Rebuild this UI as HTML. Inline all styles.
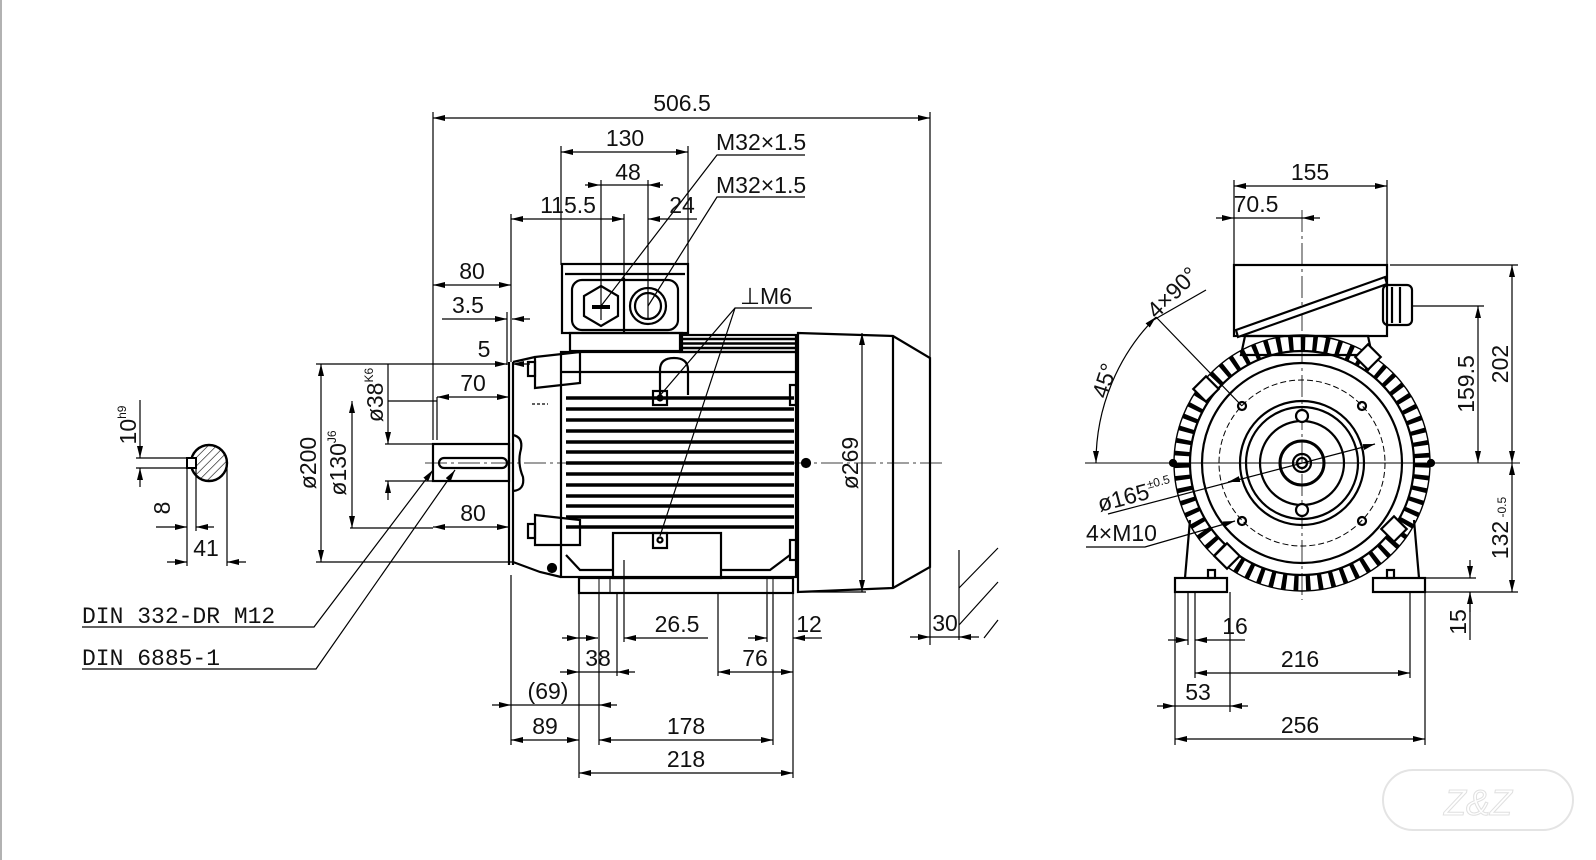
<!DOCTYPE html>
<html><head><meta charset="utf-8"><style>
html,body{margin:0;padding:0;background:#fff;}
svg{display:block;}
text{font-family:"Liberation Sans",sans-serif;font-size:23px;fill:#111;}
</style></head><body>
<svg width="1596" height="860" viewBox="0 0 1596 860" xmlns="http://www.w3.org/2000/svg">
<defs>
<marker id="a" viewBox="0 0 12 6" refX="12" refY="3" markerWidth="12" markerHeight="6" orient="auto-start-reverse" markerUnits="userSpaceOnUse"><path d="M0,0 L12,3 L0,6 z" fill="#000"/></marker>
<pattern id="h" width="6" height="6" patternUnits="userSpaceOnUse" patternTransform="rotate(45)"><line x1="0" y1="0" x2="0" y2="6" stroke="#000" stroke-width="1.2"/></pattern>
</defs>
<line x1="1" y1="0" x2="1" y2="860" stroke="#666" stroke-width="1"/>

<g stroke="#000" fill="none" stroke-width="1.2">
<line x1="433" y1="118" x2="930" y2="118" marker-start="url(#a)" marker-end="url(#a)"/>
<line x1="433" y1="112" x2="433" y2="440"/>
<line x1="930" y1="112" x2="930" y2="645"/>
<line x1="561" y1="152" x2="688" y2="152" marker-start="url(#a)" marker-end="url(#a)"/>
<line x1="561" y1="146" x2="561" y2="265"/><line x1="688" y1="146" x2="688" y2="265"/>
<line x1="585" y1="185" x2="600" y2="185" marker-end="url(#a)"/><line x1="600" y1="185" x2="648" y2="185"/><line x1="663" y1="185" x2="648" y2="185" marker-end="url(#a)"/>
<line x1="601" y1="180" x2="601" y2="320"/><line x1="648" y1="180" x2="648" y2="320"/>
<line x1="511" y1="219" x2="624" y2="219" marker-start="url(#a)" marker-end="url(#a)"/>
<line x1="668" y1="219" x2="648" y2="219" marker-end="url(#a)"/><line x1="668" y1="219" x2="697" y2="219"/>
<line x1="511" y1="214" x2="511" y2="362"/><line x1="624" y1="214" x2="624" y2="330"/>
<polyline points="805,155 717,155 601,306"/>
<polyline points="805,197 717,197 648,306"/>
<line x1="433" y1="285" x2="511" y2="285" marker-start="url(#a)" marker-end="url(#a)"/>
<line x1="442" y1="319" x2="507" y2="319" marker-end="url(#a)"/><line x1="530" y1="319" x2="512" y2="319" marker-end="url(#a)"/>
<line x1="507" y1="312" x2="507" y2="365"/>
<line x1="316" y1="364" x2="507" y2="364" marker-end="url(#a)"/><line x1="530" y1="364" x2="512" y2="364" marker-end="url(#a)"/>
<line x1="437" y1="397" x2="509" y2="397" marker-start="url(#a)" marker-end="url(#a)"/>
<line x1="437" y1="397" x2="437" y2="440"/>
<line x1="388" y1="401" x2="437" y2="401"/>
<line x1="433" y1="527" x2="509" y2="527" marker-start="url(#a)" marker-end="url(#a)"/>
<line x1="350" y1="528" x2="433" y2="528"/>
<line x1="316" y1="562" x2="512" y2="562"/>
<line x1="321" y1="364" x2="321" y2="562" marker-start="url(#a)" marker-end="url(#a)"/>
<line x1="352" y1="401" x2="352" y2="528" marker-start="url(#a)" marker-end="url(#a)"/>
<line x1="385" y1="444" x2="433" y2="444"/><line x1="385" y1="481" x2="433" y2="481"/>
<line x1="388" y1="364" x2="388" y2="444" marker-end="url(#a)"/><line x1="388" y1="500" x2="388" y2="481" marker-end="url(#a)"/>
<polyline points="82,627 314,627 433,470" marker-end="url(#a)"/>
<polyline points="82,669 316,669 455,470" marker-end="url(#a)"/>
<circle cx="209" cy="463" r="18" fill="url(#h)" stroke-width="2.4"/>
<rect x="187" y="458" width="9" height="10" fill="#fff" stroke-width="2"/>
<line x1="136" y1="458" x2="187" y2="458"/><line x1="136" y1="468" x2="187" y2="468"/>
<line x1="140" y1="400" x2="140" y2="458" marker-end="url(#a)"/><line x1="140" y1="487" x2="140" y2="468" marker-end="url(#a)"/>
<line x1="187" y1="468" x2="187" y2="566"/><line x1="196" y1="468" x2="196" y2="531"/><line x1="227" y1="463" x2="227" y2="566"/>
<line x1="156" y1="527" x2="187" y2="527" marker-end="url(#a)"/><line x1="214" y1="527" x2="196" y2="527" marker-end="url(#a)"/>
<line x1="167" y1="562" x2="187" y2="562" marker-end="url(#a)"/><line x1="246" y1="562" x2="227" y2="562" marker-end="url(#a)"/>
<line x1="511" y1="575" x2="511" y2="745"/>
<line x1="579" y1="593" x2="579" y2="778"/><line x1="599" y1="593" x2="599" y2="745"/>
<line x1="617" y1="593" x2="617" y2="676"/><line x1="624" y1="560" x2="624" y2="642"/>
<line x1="718" y1="593" x2="718" y2="676"/><line x1="767" y1="593" x2="767" y2="642"/>
<line x1="773" y1="593" x2="773" y2="745"/><line x1="793" y1="593" x2="793" y2="778"/>
<line x1="562" y1="638" x2="579" y2="638" marker-end="url(#a)"/><line x1="579" y1="638" x2="598" y2="638" marker-end="url(#a)"/>
<line x1="708" y1="638" x2="624" y2="638" marker-end="url(#a)"/>
<line x1="560" y1="672" x2="579" y2="672" marker-end="url(#a)"/><line x1="635" y1="672" x2="617" y2="672" marker-end="url(#a)"/><line x1="579" y1="672" x2="617" y2="672"/>
<line x1="718" y1="672" x2="793" y2="672" marker-start="url(#a)" marker-end="url(#a)"/>
<line x1="748" y1="638" x2="767" y2="638" marker-end="url(#a)"/><line x1="822" y1="638" x2="793" y2="638" marker-end="url(#a)"/>
<line x1="492" y1="705" x2="511" y2="705" marker-end="url(#a)"/><line x1="511" y1="705" x2="599" y2="705"/>
<line x1="617" y1="705" x2="599" y2="705" marker-end="url(#a)"/>
<line x1="511" y1="740" x2="579" y2="740" marker-start="url(#a)" marker-end="url(#a)"/>
<line x1="599" y1="740" x2="773" y2="740" marker-start="url(#a)" marker-end="url(#a)"/>
<line x1="579" y1="773" x2="793" y2="773" marker-start="url(#a)" marker-end="url(#a)"/>
<line x1="910" y1="637" x2="930" y2="637" marker-end="url(#a)"/><line x1="979" y1="637" x2="959" y2="637" marker-end="url(#a)"/>
<line x1="930" y1="637" x2="959" y2="637"/>
<line x1="959" y1="550" x2="959" y2="640"/>
<line x1="959" y1="588" x2="998" y2="548"/><line x1="959" y1="625" x2="998" y2="582"/><line x1="984" y1="638" x2="998" y2="620"/>
<line x1="862" y1="333" x2="862" y2="592" marker-start="url(#a)" marker-end="url(#a)"/>
<line x1="800" y1="592" x2="866" y2="592"/>
<polyline points="812,308 735,308 657,399"/>
<line x1="735" y1="308" x2="660" y2="536"/>
<line x1="425" y1="463" x2="945" y2="463" stroke-dasharray="22 4 3 4" stroke-width="0.8"/>
<line x1="532" y1="404" x2="548" y2="404" stroke-dasharray="3 2"/>

<g stroke-width="2.2">
<rect x="562" y="264" width="126" height="69"/>
<line x1="565" y1="274" x2="685" y2="274"/>
<rect x="572" y="280" width="106" height="50" rx="10"/>
<line x1="624" y1="278" x2="624" y2="333"/>
<polygon points="601,286 618,296 618,316 601,326 584,316 584,296"/>
<line x1="592" y1="307" x2="610" y2="307" stroke-width="4"/>
<circle cx="648" cy="306" r="18"/><circle cx="648" cy="306" r="13"/>
<rect x="570" y="333" width="112" height="18"/>
<rect x="561" y="352" width="235" height="225"/>
<rect x="680" y="335" width="116" height="17"/>
<line x1="682" y1="339" x2="796" y2="339" stroke-width="2.5"/>
<line x1="682" y1="343.5" x2="796" y2="343.5" stroke-width="2.5"/>
<line x1="682" y1="348" x2="796" y2="348" stroke-width="2.5"/>
<line x1="561" y1="372" x2="796" y2="372"/>
<polygon points="535,357 580,352 580,383 535,388"/><rect x="528" y="362" width="7" height="14"/>
<polygon points="535,515 580,520 580,545 535,545"/><rect x="528" y="524" width="7" height="14"/>
<line x1="509" y1="362" x2="509" y2="565"/><line x1="513" y1="362" x2="513" y2="565"/>
<polyline points="513,362 535,357"/>
<polyline points="513,562 540,572 561,577"/>
<path d="M513,435 q10,2 8,14 q-4,14 2,28 q2,13 -10,14" />
<circle cx="552" cy="568" r="4" fill="#000"/>
<rect x="433" y="444" width="76" height="37"/>
<rect x="439" y="458" width="68" height="10" rx="5"/>
<path d="M660,395 v-25 q0,-12 14,-12 q14,0 14,12 v25"/>
<rect x="653" y="391" width="14" height="14"/><circle cx="660" cy="398" r="2.5"/>
<rect x="613" y="533" width="108" height="45"/>
<rect x="653" y="533" width="14" height="15"/><circle cx="660" cy="540" r="2.5"/>
<polyline points="566,555 580,570 613,570"/><polyline points="721,570 770,570 790,555"/>
<rect x="579" y="578" width="214" height="15"/>
<line x1="599" y1="578" x2="599" y2="593" stroke-width="1"/><line x1="610" y1="578" x2="610" y2="593" stroke-width="1"/>
<line x1="767" y1="578" x2="767" y2="593" stroke-width="1"/><line x1="773" y1="578" x2="773" y2="593" stroke-width="1"/>
<path d="M798,333 L893,336 L930,358 L930,567 L893,588 L798,592 Z"/>
<line x1="893" y1="336" x2="893" y2="588"/>
<rect x="790" y="385" width="6" height="20"/><rect x="790" y="540" width="6" height="20"/>
<circle cx="806" cy="463" r="4" fill="#000"/>
</g>
<g stroke-width="3.4">
<line x1="566" y1="398" x2="794" y2="398"/><line x1="566" y1="409" x2="794" y2="409"/>
<line x1="566" y1="420" x2="794" y2="420"/><line x1="566" y1="431" x2="794" y2="431"/>
<line x1="566" y1="442" x2="794" y2="442"/><line x1="566" y1="452" x2="794" y2="452"/>
<line x1="566" y1="463" x2="794" y2="463"/><line x1="566" y1="474" x2="794" y2="474"/>
<line x1="566" y1="485" x2="794" y2="485"/><line x1="566" y1="496" x2="794" y2="496"/>
<line x1="566" y1="506" x2="794" y2="506"/><line x1="566" y1="517" x2="794" y2="517"/>
<line x1="566" y1="527" x2="794" y2="527"/>
</g>

<line x1="1234" y1="186" x2="1387" y2="186" marker-start="url(#a)" marker-end="url(#a)"/>
<line x1="1234" y1="180" x2="1234" y2="265"/><line x1="1387" y1="180" x2="1387" y2="265"/>
<line x1="1216" y1="218" x2="1234" y2="218" marker-end="url(#a)"/><line x1="1234" y1="218" x2="1302" y2="218"/><line x1="1320" y1="218" x2="1302" y2="218" marker-end="url(#a)"/>
<line x1="1302" y1="210" x2="1302" y2="600" stroke-dasharray="22 4 3 4" stroke-width="0.8"/>
<line x1="1085" y1="463" x2="1520" y2="463" stroke-width="0.9"/>
<line x1="1390" y1="265" x2="1518" y2="265"/>
<line x1="1512" y1="265" x2="1512" y2="463" marker-start="url(#a)" marker-end="url(#a)"/>
<line x1="1512" y1="463" x2="1512" y2="592" marker-start="url(#a)" marker-end="url(#a)"/>
<line x1="1412" y1="306" x2="1484" y2="306"/>
<line x1="1478" y1="306" x2="1478" y2="463" marker-start="url(#a)" marker-end="url(#a)"/>
<line x1="1425" y1="578" x2="1476" y2="578"/><line x1="1425" y1="592" x2="1518" y2="592"/>
<line x1="1470" y1="560" x2="1470" y2="578" marker-end="url(#a)"/><line x1="1470" y1="612" x2="1470" y2="592" marker-end="url(#a)"/>
<line x1="1470" y1="592" x2="1470" y2="640"/>
<line x1="1175" y1="592" x2="1175" y2="745"/><line x1="1188" y1="592" x2="1188" y2="645"/>
<line x1="1195" y1="592" x2="1195" y2="678"/><line x1="1230" y1="592" x2="1230" y2="712"/>
<line x1="1410" y1="592" x2="1410" y2="678"/><line x1="1425" y1="592" x2="1425" y2="745"/>
<line x1="1168" y1="640" x2="1188" y2="640" marker-end="url(#a)"/><line x1="1213" y1="640" x2="1195" y2="640" marker-end="url(#a)"/><line x1="1213" y1="640" x2="1245" y2="640"/>
<line x1="1195" y1="673" x2="1410" y2="673" marker-start="url(#a)" marker-end="url(#a)"/>
<line x1="1157" y1="706" x2="1175" y2="706" marker-end="url(#a)"/><line x1="1175" y1="706" x2="1230" y2="706"/><line x1="1248" y1="706" x2="1230" y2="706" marker-end="url(#a)"/>
<line x1="1175" y1="739" x2="1425" y2="739" marker-start="url(#a)" marker-end="url(#a)"/>
<path d="M1096,463 A206,206 0 0 1 1156,317" marker-start="url(#a)" marker-end="url(#a)"/>
<line x1="1156" y1="317" x2="1242" y2="406"/>
<line x1="1150" y1="322" x2="1206" y2="290"/>
<line x1="1108" y1="514" x2="1375" y2="444" marker-end="url(#a)"/>
<line x1="1240" y1="479" x2="1228" y2="482" marker-end="url(#a)"/>
<polyline points="1086,547 1145,547 1235,521" marker-end="url(#a)"/>

<g stroke-width="2.2">
<rect x="1234" y="265" width="153" height="71"/>
<polygon points="1236,330 1385,277 1387,284 1238,337" fill="#fff"/>
<rect x="1383" y="285" width="29" height="40" rx="5"/>
<line x1="1392" y1="287" x2="1392" y2="323"/><line x1="1400" y1="287" x2="1400" y2="323"/>
<polygon points="1245,336 1368,336 1372,355 1241,355"/>
<circle cx="1302" cy="463" r="120" stroke-width="16" stroke-dasharray="4.5 7.5" stroke="#000"/>
<circle cx="1302" cy="463" r="128" stroke-width="1.4"/>
<circle cx="1302" cy="463" r="112"/>
<circle cx="1302" cy="463" r="100"/>
<circle cx="1302" cy="463" r="83" stroke-width="1" stroke-dasharray="6 3"/>
<circle cx="1302" cy="463" r="62"/><circle cx="1302" cy="463" r="56"/>
<circle cx="1302" cy="463" r="42"/>
<circle cx="1302" cy="463" r="22" stroke-width="3"/>
<circle cx="1302" cy="463" r="9"/><circle cx="1302" cy="463" r="5"/>
<circle cx="1302" cy="416" r="6" fill="#fff"/><circle cx="1302" cy="510" r="6" fill="#fff"/>
<circle cx="1242" cy="406" r="4"/><circle cx="1362" cy="406" r="4"/>
<circle cx="1242" cy="521" r="4"/><circle cx="1362" cy="521" r="4"/>
<rect x="1197" y="380" width="18" height="18" fill="#fff" transform="rotate(45 1206 389)"/>
<rect x="1359" y="348" width="18" height="18" fill="#fff" transform="rotate(45 1368 357)"/>
<rect x="1385" y="520" width="18" height="18" fill="#fff" transform="rotate(45 1394 529)"/>
<rect x="1218" y="547" width="18" height="18" fill="#fff" transform="rotate(45 1227 556)"/>
<polyline points="1190,520 1185,578"/><polyline points="1414,520 1419,578"/>
<rect x="1175" y="578" width="52" height="14"/><rect x="1373" y="578" width="52" height="14"/>
<rect x="1208" y="570" width="7" height="8"/><rect x="1387" y="570" width="7" height="8"/>
<circle cx="1173" cy="463" r="3" fill="#000"/><circle cx="1431" cy="463" r="3" fill="#000"/>
</g>
</g>

<g>
<text x="682" y="111" text-anchor="middle">506.5</text>
<text x="625" y="146" text-anchor="middle">130</text>
<text x="628" y="180" text-anchor="middle">48</text>
<text x="568" y="213" text-anchor="middle">115.5</text>
<text x="682" y="213" text-anchor="middle">24</text>
<text x="716" y="150">M32×1.5</text>
<text x="716" y="193">M32×1.5</text>
<text x="740" y="304">⊥M6</text>
<text x="472" y="279" text-anchor="middle">80</text>
<text x="468" y="313" text-anchor="middle">3.5</text>
<text x="484" y="357" text-anchor="middle">5</text>
<text x="473" y="391" text-anchor="middle">70</text>
<text x="473" y="521" text-anchor="middle">80</text>
<text transform="translate(316,463) rotate(-90)" text-anchor="middle">ø200</text>
<text transform="translate(346,463) rotate(-90)" text-anchor="middle">ø130<tspan font-size="12" dy="-10">J6</tspan></text>
<text transform="translate(383,395) rotate(-90)" text-anchor="middle">ø38<tspan font-size="12" dy="-10">K6</tspan></text>
<text transform="translate(858,463) rotate(-90)" text-anchor="middle">ø269</text>
<text transform="translate(136,425) rotate(-90)" text-anchor="middle">10<tspan font-size="12" dy="-10">h9</tspan></text>
<text transform="translate(170,508) rotate(-90)" text-anchor="middle">8</text>
<text x="206" y="556" text-anchor="middle">41</text>
<text x="82" y="623" style="font-family:'Liberation Mono',monospace">DIN 332-DR M12</text>
<text x="82" y="665" style="font-family:'Liberation Mono',monospace">DIN 6885-1</text>
<text x="677" y="632" text-anchor="middle">26.5</text>
<text x="809" y="632" text-anchor="middle">12</text>
<text x="598" y="666" text-anchor="middle">38</text>
<text x="755" y="666" text-anchor="middle">76</text>
<text x="548" y="699" text-anchor="middle">(69)</text>
<text x="545" y="734" text-anchor="middle">89</text>
<text x="686" y="734" text-anchor="middle">178</text>
<text x="686" y="767" text-anchor="middle">218</text>
<text x="945" y="631" text-anchor="middle">30</text>
<text x="1310" y="180" text-anchor="middle">155</text>
<text x="1256" y="212" text-anchor="middle">70.5</text>
<text transform="translate(1508,364) rotate(-90)" text-anchor="middle">202</text>
<text transform="translate(1474,384) rotate(-90)" text-anchor="middle">159.5</text>
<text transform="translate(1508,528) rotate(-90)" text-anchor="middle">132<tspan font-size="12" dy="-2"> -0.5</tspan></text>
<text transform="translate(1466,622) rotate(-90)" text-anchor="middle">15</text>
<text x="1235" y="634" text-anchor="middle">16</text>
<text x="1300" y="667" text-anchor="middle">216</text>
<text x="1198" y="700" text-anchor="middle">53</text>
<text x="1300" y="733" text-anchor="middle">256</text>
<text transform="translate(1112,383) rotate(-72)" text-anchor="middle">45°</text>
<text transform="translate(1178,298) rotate(-45)" text-anchor="middle">4×90°</text>
<text transform="translate(1100,512) rotate(-15)">ø165<tspan font-size="12" dy="-10">±0.5</tspan></text>
<text x="1086" y="541">4×M10</text>
</g>
<g stroke="#e4e4e4" fill="none" stroke-width="2">
<rect x="1383" y="770" width="190" height="60" rx="30"/>
<text x="1478" y="815" text-anchor="middle" style="fill:none;stroke:#e0e0e0;stroke-width:1;font-size:36px;font-style:italic">Z&amp;Z</text>
</g>
</svg>
</body></html>
